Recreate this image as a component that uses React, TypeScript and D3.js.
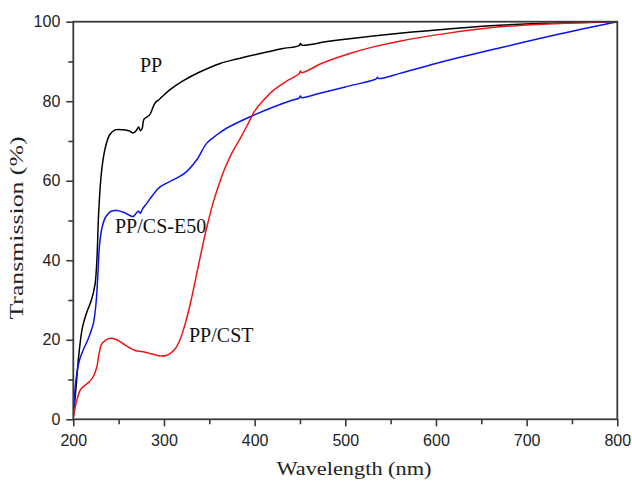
import React, { useRef, useEffect } from "react";
import * as d3 from "d3";

// PP (black)
const ppNm = [200, 203, 206, 210, 215, 220, 224, 226, 228, 231, 235, 240, 246, 255, 262, 266, 270, 272, 274, 276, 278, 284, 290, 295, 306, 320, 340, 362, 380, 406, 430, 449, 450.5, 452, 480, 500, 560, 620, 670, 720, 800];
const ppT = [0.6, 8, 16, 23, 27, 30, 34, 40, 52, 62, 68, 71.5, 72.8, 72.8, 72.5, 72.0, 72.8, 73.5, 72.6, 73.2, 75.5, 76.5, 79.5, 80.5, 82.8, 85, 87.4, 89.5, 90.6, 92, 93.2, 94.0, 94.5, 94.1, 95, 95.6, 97.1, 98.3, 99.1, 99.6, 100];

// PP/CS-E50 (blue)
const e50Nm = [200, 203, 207, 211, 216, 222, 225, 227, 229, 232, 236, 242, 248, 256, 263, 266, 270, 272, 274, 276, 281, 288, 296, 310, 323, 336, 347, 358, 369, 395, 420, 442, 449, 450.5, 452, 472, 500, 534, 535.5, 537, 560, 600, 670, 730, 800];
const e50T = [0.6, 10, 15, 17.5, 20, 24, 29, 36, 44, 48.5, 51, 52.4, 52.5, 52, 51.2, 51, 52, 52.3, 51.8, 52.8, 54.3, 56.5, 58.5, 60.2, 61.9, 65.2, 69.4, 71.5, 73.2, 76.1, 78.5, 80.3, 80.8, 81.3, 80.9, 82, 83.6, 85.6, 86, 85.7, 87, 89.5, 93.4, 96.6, 100];

// PP/CST (red)
const cstNm = [200, 204, 208, 213, 218, 222, 226, 228, 231, 236, 242, 248, 255, 262, 268, 277, 287, 297, 303, 307, 312, 318, 324, 330, 336, 342, 348, 354, 360, 367, 375, 384, 392, 400, 410, 421, 435, 449, 450.5, 452, 475, 505, 530, 560, 610, 670, 730, 800];
const cstT = [0.6, 4.9, 7.5, 8.6, 9.5, 10.7, 13.2, 16, 18.7, 20, 20.4, 20, 19, 18, 17.3, 17, 16.4, 15.9, 16.1, 16.6, 17.6, 20.2, 24.5, 30, 36.5, 43, 49, 54.3, 58.6, 63, 67, 70.6, 74, 77.5, 80.3, 82.8, 85, 86.9, 87.6, 87.2, 89.6, 92, 93.6, 95.1, 97, 98.7, 99.5, 100];

const xMajor = [200, 300, 400, 500, 600, 700, 800];
const xMinor = [250, 350, 450, 550, 650, 750];
const yMajor = [0, 20, 40, 60, 80, 100];
const yMinor = [10, 30, 50, 70, 90];

const series = [
  { name: "PP", nm: ppNm, t: ppT, color: "#000000" },
  { name: "PP/CS-E50", nm: e50Nm, t: e50T, color: "#0a14f0" },
  { name: "PP/CST", nm: cstNm, t: cstT, color: "#f01414" },
];

const serif = "'Liberation Serif', 'Times New Roman', serif";
const sans = "'Liberation Sans', Arial, sans-serif";

const App = () => {
  const ref = useRef(null);
  const W = 632,
    H = 481;
  const margin = { top: 21.7, right: 14.7, bottom: 61.7, left: 73.3 };

  useEffect(() => {
    const svg = d3.select(ref.current);
    svg.selectAll("*").remove();

    const x = d3
      .scaleLinear()
      .domain([200, 800])
      .range([margin.left, W - margin.right]);
    const y = d3
      .scaleLinear()
      .domain([0, 100])
      .range([H - margin.bottom, margin.top]);

    const line = d3
      .line()
      .x((d) => x(d[0]))
      .y((d) => y(d[1]))
      .curve(d3.curveCatmullRom.alpha(0.5));

    svg
      .append("clipPath")
      .attr("id", "plotclip")
      .append("rect")
      .attr("x", margin.left)
      .attr("y", margin.top - 1)
      .attr("width", W - margin.left - margin.right)
      .attr("height", H - margin.top - margin.bottom + 1);

    series.forEach((s) => {
      svg
        .append("path")
        .datum(s.nm.map((v, i) => [v, s.t[i]]))
        .attr("clip-path", "url(#plotclip)")
        .attr("fill", "none")
        .attr("stroke", s.color)
        .attr("stroke-width", 1.5)
        .attr("stroke-linejoin", "round")
        .attr("d", line);
    });

    // frame
    svg
      .append("rect")
      .attr("x", margin.left)
      .attr("y", margin.top)
      .attr("width", W - margin.left - margin.right)
      .attr("height", H - margin.top - margin.bottom)
      .attr("fill", "none")
      .attr("stroke", "#3a3a3a")
      .attr("stroke-width", 1.8);

    const styleAxis = (g) => {
      g.select(".domain").remove();
      g.selectAll(".tick line").attr("stroke", "#3a3a3a").attr("stroke-width", 1.6);
      g.selectAll(".tick text")
        .attr("fill", "#222")
        .attr("font-family", sans)
        .attr("font-size", 16);
    };

    svg
      .append("g")
      .attr("transform", `translate(0,${H - margin.bottom})`)
      .call(d3.axisBottom(x).tickValues(xMajor).tickSize(7).tickPadding(8).tickFormat(d3.format("d")))
      .call(styleAxis);
    svg
      .append("g")
      .attr("transform", `translate(0,${H - margin.bottom})`)
      .call(d3.axisBottom(x).tickValues(xMinor).tickSize(5).tickFormat(() => ""))
      .call(styleAxis);
    svg
      .append("g")
      .attr("transform", `translate(${margin.left},0)`)
      .call(d3.axisLeft(y).tickValues(yMajor).tickSize(7).tickPadding(6).tickFormat(d3.format("d")))
      .call(styleAxis);
    svg
      .append("g")
      .attr("transform", `translate(${margin.left},0)`)
      .call(d3.axisLeft(y).tickValues(yMinor).tickSize(5).tickFormat(() => ""))
      .call(styleAxis);

    // axis titles
    svg
      .append("text")
      .attr("x", 354)
      .attr("y", 475)
      .attr("text-anchor", "middle")
      .attr("font-family", serif)
      .attr("font-size", 19)
      .attr("fill", "#222")
      .attr("textLength", 155)
      .attr("lengthAdjust", "spacingAndGlyphs")
      .text("Wavelength (nm)");
    svg
      .append("text")
      .attr("transform", "translate(23,228) rotate(-90)")
      .attr("text-anchor", "middle")
      .attr("font-family", serif)
      .attr("font-size", 19)
      .attr("fill", "#222")
      .attr("textLength", 183)
      .attr("lengthAdjust", "spacingAndGlyphs")
      .text("Transmission (%)");

    // curve labels
    const labels = [
      { text: "PP", x: 140, y: 72 },
      { text: "PP/CS-E50", x: 115, y: 233 },
      { text: "PP/CST", x: 189, y: 342 },
    ];
    labels.forEach((l) => {
      svg
        .append("text")
        .attr("x", l.x)
        .attr("y", l.y)
        .attr("font-family", serif)
        .attr("font-size", 20)
        .attr("fill", "#111")
        .text(l.text);
    });
  }, []);

  return (
    <svg
      ref={ref}
      width={W}
      height={H}
      style={{ position: "absolute", left: 0, top: 0, background: "#fff" }}
    ></svg>
  );
};

export default App;
